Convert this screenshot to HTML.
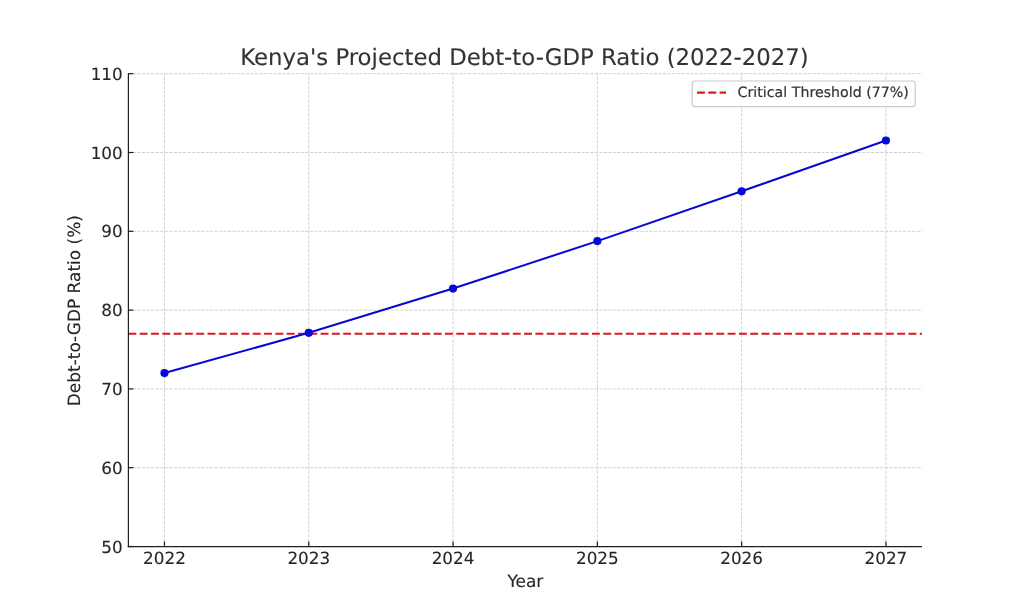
<!DOCTYPE html>
<html lang="en">
<head>
<meta charset="utf-8">
<title>Kenya's Projected Debt-to-GDP Ratio (2022-2027)</title>
<style>
html,body{margin:0;padding:0;background:#fff;}
body{width:1024px;height:614px;overflow:hidden;}
svg{display:block;}
text{font-family:"DejaVu Sans","Liberation Sans",sans-serif;fill:#262626;stroke:#262626;stroke-width:0.12px;text-rendering:geometricPrecision;}
.tick{font-size:16.8px;}
.lab{font-size:16.97px;}
.title{font-size:22.8px;fill:#333;stroke:#333;}
.leg{font-size:14.2px;fill:#333;stroke:#333;stroke-width:0.2px;}
</style>
</head>
<body>
<svg width="1024" height="614" viewBox="0 0 1024 614">
<rect x="0" y="0" width="1024" height="614" fill="#ffffff"/>

<g stroke="#c9c9c9" stroke-width="0.85" stroke-dasharray="3.16 1.37" fill="none">
<line x1="164.47" y1="546.50" x2="164.47" y2="73.70"/>
<line x1="308.76" y1="546.50" x2="308.76" y2="73.70"/>
<line x1="453.05" y1="546.50" x2="453.05" y2="73.70"/>
<line x1="597.35" y1="546.50" x2="597.35" y2="73.70"/>
<line x1="741.64" y1="546.50" x2="741.64" y2="73.70"/>
<line x1="885.93" y1="546.50" x2="885.93" y2="73.70"/>
<line x1="128.40" y1="546.50" x2="922.00" y2="546.50"/>
<line x1="128.40" y1="467.70" x2="922.00" y2="467.70"/>
<line x1="128.40" y1="388.90" x2="922.00" y2="388.90"/>
<line x1="128.40" y1="310.10" x2="922.00" y2="310.10"/>
<line x1="128.40" y1="231.30" x2="922.00" y2="231.30"/>
<line x1="128.40" y1="152.50" x2="922.00" y2="152.50"/>
<line x1="128.40" y1="73.70" x2="922.00" y2="73.70"/>
</g>
<line x1="128.40" y1="333.74" x2="922.00" y2="333.74" stroke="#de181e" stroke-width="2.13" stroke-dasharray="7.893 3.413"/>
<polyline points="164.47,373.10 308.76,332.80 453.05,288.60 597.35,241.10 741.64,191.30 885.93,140.50" fill="none" stroke="#0808d4" stroke-width="2.05" stroke-linejoin="round"/>
<circle cx="164.47" cy="373.10" r="4.1" fill="#0808d4"/>
<circle cx="308.76" cy="332.80" r="4.1" fill="#0808d4"/>
<circle cx="453.05" cy="288.60" r="4.1" fill="#0808d4"/>
<circle cx="597.35" cy="241.10" r="4.1" fill="#0808d4"/>
<circle cx="741.64" cy="191.30" r="4.1" fill="#0808d4"/>
<circle cx="885.93" cy="140.50" r="4.1" fill="#0808d4"/>
<g stroke="#1e1e1e" stroke-width="1.2" fill="none">
<line x1="128.40" y1="73.20" x2="128.40" y2="547.17"/>
<line x1="127.80" y1="546.60" x2="922.00" y2="546.60"/>
<line x1="164.47" y1="546.50" x2="164.47" y2="541.50"/>
<line x1="308.76" y1="546.50" x2="308.76" y2="541.50"/>
<line x1="453.05" y1="546.50" x2="453.05" y2="541.50"/>
<line x1="597.35" y1="546.50" x2="597.35" y2="541.50"/>
<line x1="741.64" y1="546.50" x2="741.64" y2="541.50"/>
<line x1="885.93" y1="546.50" x2="885.93" y2="541.50"/>
<line x1="128.40" y1="546.50" x2="133.40" y2="546.50"/>
<line x1="128.40" y1="467.70" x2="133.40" y2="467.70"/>
<line x1="128.40" y1="388.90" x2="133.40" y2="388.90"/>
<line x1="128.40" y1="310.10" x2="133.40" y2="310.10"/>
<line x1="128.40" y1="231.30" x2="133.40" y2="231.30"/>
<line x1="128.40" y1="152.50" x2="133.40" y2="152.50"/>
<line x1="128.40" y1="73.70" x2="133.40" y2="73.70"/>
</g>
<text class="tick" x="164.47" y="564.45" text-anchor="middle">2022</text>
<text class="tick" x="308.76" y="564.45" text-anchor="middle">2023</text>
<text class="tick" x="453.05" y="564.45" text-anchor="middle">2024</text>
<text class="tick" x="597.35" y="564.45" text-anchor="middle">2025</text>
<text class="tick" x="741.64" y="564.45" text-anchor="middle">2026</text>
<text class="tick" x="885.93" y="564.45" text-anchor="middle">2027</text>
<text class="tick" x="122.7" y="552.60" text-anchor="end">50</text>
<text class="tick" x="122.7" y="473.80" text-anchor="end">60</text>
<text class="tick" x="122.7" y="395.00" text-anchor="end">70</text>
<text class="tick" x="122.7" y="316.20" text-anchor="end">80</text>
<text class="tick" x="122.7" y="237.40" text-anchor="end">90</text>
<text class="tick" x="122.7" y="158.60" text-anchor="end">100</text>
<text class="tick" x="122.7" y="79.80" text-anchor="end">110</text>
<text class="lab" x="525.4" y="587.2" text-anchor="middle">Year</text>
<text class="lab" transform="translate(79.85 310.7) rotate(-90)" text-anchor="middle">Debt-to-GDP Ratio (%)</text>
<text class="title" x="524.5" y="65.2" text-anchor="middle">Kenya's Projected Debt-to-GDP Ratio (2022-2027)</text>
<rect x="692.2" y="81" width="223" height="25.6" rx="2.8" ry="2.8" fill="#ffffff" fill-opacity="0.8" stroke="#c6c6c6" stroke-opacity="0.95" stroke-width="1.2"/>
<line x1="697" y1="92.6" x2="726" y2="92.6" stroke="#de181e" stroke-width="2.13" stroke-dasharray="7.893 3.413"/>
<text class="leg" x="737.6" y="97.4">Critical Threshold (77%)</text>
</svg>
</body>
</html>
